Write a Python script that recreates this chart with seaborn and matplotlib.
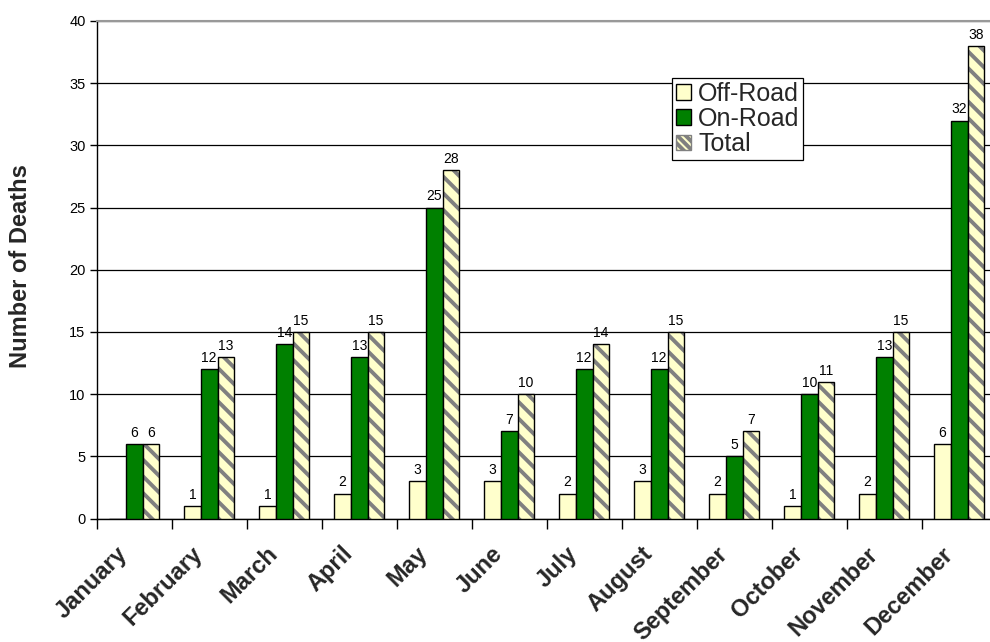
import numpy as np
import pandas as pd
import matplotlib
matplotlib.use("Agg")
import matplotlib.pyplot as plt
import matplotlib.transforms as mtransforms
from matplotlib.patches import Patch, Rectangle
import seaborn as sns

# Monthly death counts by road type
months = ["January", "February", "March", "April", "May", "June", "July",
          "August", "September", "October", "November", "December"]
off_road = [0, 1, 1, 2, 3, 3, 2, 3, 2, 1, 2, 6]
on_road = [6, 12, 14, 13, 25, 7, 12, 12, 5, 10, 13, 32]
total = [6, 13, 15, 15, 28, 10, 14, 15, 7, 11, 15, 38]
series = ["Off-Road", "On-Road", "Total"]
y_ticks = [0, 5, 10, 15, 20, 25, 30, 35, 40]

PALE = "#FFFFCC"
GREEN = "#008000"
STRIPE = "#808080"

sns.set_theme(style="ticks")
plt.rcParams["font.family"] = ["Liberation Sans", "DejaVu Sans"]
plt.rcParams["hatch.linewidth"] = 2.8

df = pd.DataFrame({
    "Month": months * 3,
    "Series": [s for s in series for _ in months],
    "Deaths": off_road + on_road + total,
})

fig = plt.figure(figsize=(9.9, 6.42), dpi=100)
ax = fig.add_axes([96.7 / 990, 1 - 518.5 / 642, 900 / 990, 497.5 / 642])

sns.barplot(data=df, x="Month", y="Deaths", hue="Series", order=months,
            hue_order=series, palette=[PALE, GREEN, PALE], width=2 / 3,
            saturation=1, edgecolor="black", linewidth=1, errorbar=None,
            legend=False, ax=ax, zorder=3)

# Striped fill for the totals, with a separate black outline on top
for bar in ax.containers[2]:
    bar.set_hatch("\\\\")
    bar.set_edgecolor(STRIPE)
    bar.set_linewidth(0)
    ax.add_patch(Rectangle(bar.get_xy(), bar.get_width(), bar.get_height(),
                           fill=False, edgecolor="black", linewidth=1,
                           zorder=4))

# Value labels above each non-zero bar
for cont, vals in zip(ax.containers, [off_road, on_road, total]):
    ax.bar_label(cont, labels=[str(v) if v > 0 else "" for v in vals],
                 padding=3, fontsize=10, color="black", zorder=5)

ax.set_ylim(0, 40)
ax.set_yticks(y_ticks)
ax.set_xlim(-0.5, len(months) - 0.5)
ax.yaxis.grid(True, color="black", linewidth=0.9)
ax.set_axisbelow(True)

for side in ["left", "bottom"]:
    ax.spines[side].set_color("black")
    ax.spines[side].set_linewidth(1)
ax.spines["top"].set_visible(True)
ax.spines["top"].set_color("#999999")
ax.spines["top"].set_linewidth(1.5)
ax.spines["right"].set_visible(False)

ax.tick_params(axis="y", direction="out", length=5, width=1, colors="black",
               labelsize=10.5, pad=3)
ax.set_xticks(np.arange(-0.5, len(months), 1), minor=True)
ax.tick_params(axis="x", which="minor", direction="out", length=7, width=1,
               color="black")
ax.tick_params(axis="x", which="major", length=0, pad=23)
ax.set_xticks(range(len(months)))
ax.set_xticklabels(months, rotation=45, ha="right", va="center",
                   rotation_mode="anchor", fontsize=17, fontweight="bold")
shift = mtransforms.ScaledTranslation(-10 / 100, 0, fig.dpi_scale_trans)
for lbl in ax.get_xticklabels():
    lbl.set_transform(lbl.get_transform() + shift)

ax.set_xlabel("")
ax.set_ylabel("Number of Deaths", fontsize=17, fontweight="bold")
ax.yaxis.set_label_coords((32 - 96.7) / 900, (518.5 - 266) / 497.5)

handles = [
    Patch(facecolor=PALE, edgecolor="black", linewidth=1),
    Patch(facecolor=GREEN, edgecolor="black", linewidth=1),
    Patch(facecolor=PALE, edgecolor=STRIPE, hatch="\\\\\\\\", linewidth=1),
]
leg = ax.legend(handles, series, loc="upper left",
                bbox_to_anchor=(672 / 990, 1 - 78 / 642),
                bbox_transform=fig.transFigure, fontsize=18, frameon=True,
                fancybox=False, framealpha=1, edgecolor="black",
                handlelength=0.6, handleheight=0.6, handletextpad=0.3,
                labelspacing=0.05, borderpad=0.15, borderaxespad=0)
leg.get_frame().set_linewidth(0.9)
leg.set_zorder(10)

fig.savefig("out.png", dpi=100)
